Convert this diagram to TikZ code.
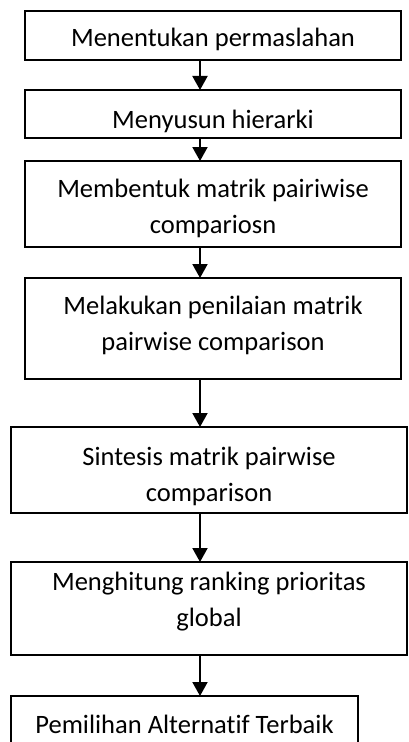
\documentclass[tikz,border=0pt]{standalone}
\usepackage{fontspec}
\setmainfont{Carlito}[Ligatures=NoCommon]
\usetikzlibrary{arrows.meta}
\tikzset{
  stepbox/.style={draw, line width=1.5pt, inner sep=0pt, outer sep=0pt, anchor=north west},
  steptext/.style={anchor=base, align=center, inner sep=0pt,
    font=\fontsize{19.9}{26.6}\selectfont},
  flow/.style={line width=1.5pt, -{Triangle[width=11.25pt,length=10.5pt]}}
}
\begin{document}
\begin{tikzpicture}[x=0.75pt,y=-0.75pt]
\useasboundingbox (0,0) rectangle (408,742);
% boxes
\node[stepbox, minimum width=282pt, minimum height=36.75pt] (b1) at (25,11) {};
\node[stepbox, minimum width=282pt, minimum height=36pt] (b2) at (25,90) {};
\node[stepbox, minimum width=282pt, minimum height=64.5pt] (b3) at (25,161) {};
\node[stepbox, minimum width=282pt, minimum height=75.75pt] (b4) at (25,278) {};
\node[stepbox, minimum width=297pt, minimum height=64.5pt] (b5) at (11,427) {};
\node[stepbox, minimum width=297pt, minimum height=69.75pt] (b6) at (11,562) {};
\node[stepbox, minimum width=260.25pt, minimum height=60pt] (b7) at (11,696) {};
%
% texts (base = last line)
\node[steptext] (t1) at (213,46.7) {Menentukan permaslahan};
\node[steptext] (t2) at (213,128) {Menyusun hierarki};
\node[steptext] (t3) at (213,233) {Membentuk matrik pairiwise\\compariosn};
\node[steptext] (t4) at (213,350) {Melakukan penilaian matrik\\pairwise comparison};
\node[steptext] (t5) at (209,501) {Sintesis matrik pairwise\\comparison};
\node[steptext] (t6) at (209,626) {Menghitung ranking prioritas\\global};
\node[steptext] (t7) at (184.5,733) {Pemilihan Alternatif Terbaik};
%
% arrows
\coordinate (axis) at (200,0);
\foreach \a/\b in {b1/b2,b2/b3,b3/b4,b4/b5,b5/b6,b6/b7}
  \draw[flow] (\a.south -| axis) -- (\b.north -| axis);
\end{tikzpicture}
\end{document}
